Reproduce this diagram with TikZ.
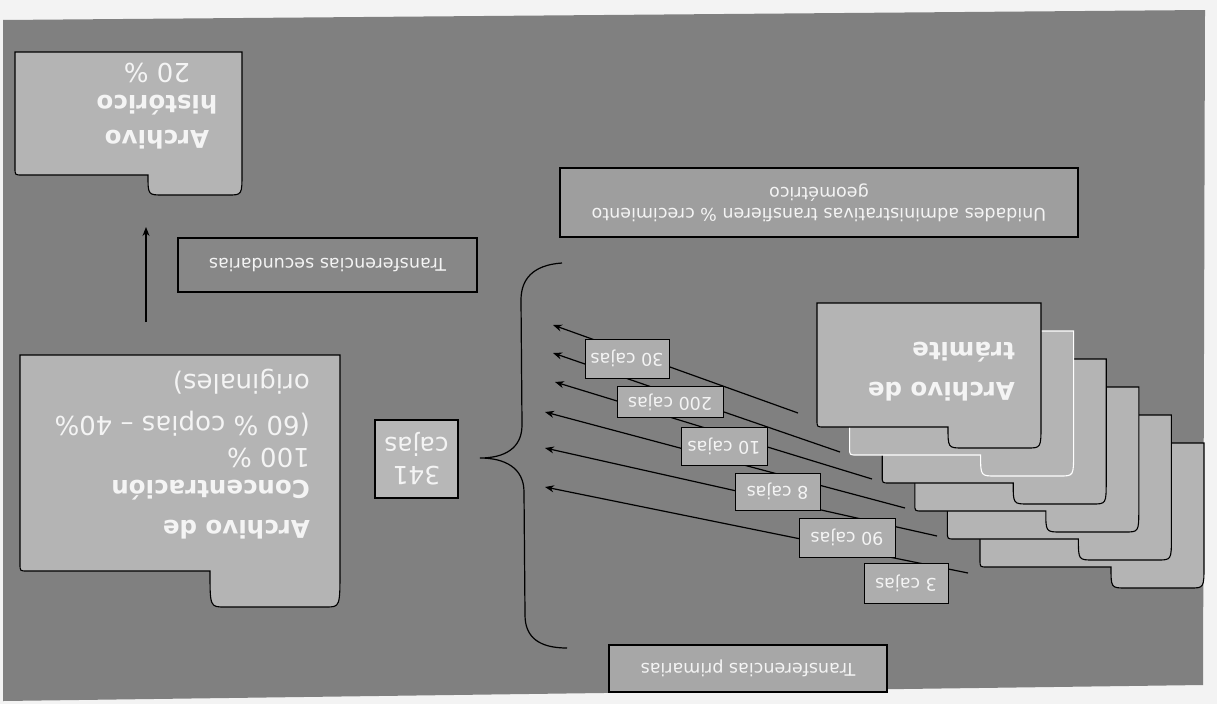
\documentclass[tikz,border=0pt]{standalone}
\usepackage{fontspec}
\setmainfont{DejaVu Sans}
\usetikzlibrary{arrows.meta}
\definecolor{paper}{HTML}{F3F3F3}
\definecolor{bggray}{HTML}{808080}
\definecolor{foldergray}{HTML}{B4B4B4}
\definecolor{lblgray}{HTML}{ADADAD}
\definecolor{secgray}{HTML}{878787}
\definecolor{unigray}{HTML}{9E9E9E}
\definecolor{primgray}{HTML}{A7A7A7}
\definecolor{boxgray}{HTML}{B7B7B7}
\definecolor{txtwhite}{HTML}{F4F4F4}
% folder outline: L T R B tabLeft tabBottom
\newcommand\folderpath[6]{(#1,#2) -- (#3,#2) -- (#3,#4-2) .. controls (#3,#6) .. (#3-14,#6) -- (#5+15,#6) .. controls (#5,#6) .. (#5,#4) -- (#1+7,#4) .. controls (#1,#4) .. (#1,#4-7) -- cycle}
\begin{document}
\begin{tikzpicture}[x=1pt,y=-1pt,
  folder/.style={fill=foldergray,draw=black,line width=1.1pt},
  ftxt/.style={rotate=180,text=txtwhite,inner sep=0pt,font=\fontsize{26}{32}\selectfont},
  rbox/.style={rotate=180,draw=black,line width=1.1pt,text=txtwhite,inner sep=0pt,align=center,font=\fontsize{17.5}{21}\selectfont},
  lbl/.style={rotate=180,draw=black,line width=1pt,fill=lblgray,text=txtwhite,inner sep=0pt,font=\fontsize{17.5}{21}\selectfont},
  arr/.style={draw=black,line width=1.2pt,-{Stealth[length=9pt,width=7pt]}},
  brace/.style={draw=black,line width=1.2pt}]
\useasboundingbox (0,0) rectangle (1217,704);
\fill[paper] (0,0) rectangle (1217,704);
\fill[bggray] (3,20) -- (1205,10) -- (1203,685) -- (3,701) -- cycle;

% brace
\draw[brace] (562,263) .. controls (532,265) and (521,280) .. (521,300) -- (522,425)
  .. controls (522,448) and (505,458) .. (480,458)
  .. controls (505,458) and (524,468) .. (524,492) -- (525,615)
  .. controls (525,638) and (540,648) .. (567,648);

% arrows from the stacked folders to the brace
\coordinate (s1) at (798,413); \coordinate (e1) at (553,325);
\coordinate (s2) at (840,452); \coordinate (e2) at (553,353);
\coordinate (s3) at (872,479); \coordinate (e3) at (555,382);
\coordinate (s4) at (905,508); \coordinate (e4) at (545,412);
\coordinate (s5) at (937,536); \coordinate (e5) at (545,448);
\coordinate (s6) at (968,573); \coordinate (e6) at (545,487);
\foreach \k in {1,...,6} {\draw[arr] (s\k) -- (e\k);}

% stacked folders "Archivo de tramite"
\foreach \i/\col in {5/black,4/black,3/black,2/black,1/white,0/black} {
  \pgfmathsetmacro\fL{817+32.6*\i}
  \pgfmathsetmacro\fT{303+28*\i}
  \pgfmathsetmacro\fR{\fL+224}
  \pgfmathsetmacro\fB{\fT+124}
  \pgfmathsetmacro\fTL{\fL+131}
  \pgfmathsetmacro\fTB{\fB+21}
  \path[folder,draw=\col] \folderpath{\fL}{\fT}{\fR}{\fB}{\fTL}{\fTB};
}
\node[ftxt,align=left,anchor=north west] (tram) at (1015,401.5)
  {{\fontsize{24.5}{32}\selectfont\bfseries Archivo de}\\[8pt]{\fontsize{24.5}{32}\selectfont\bfseries trámite}};

% Archivo historico
\path[folder] \folderpath{15}{52}{242}{175}{148}{195};
\node[ftxt,align=center,anchor=north] (hist) at (157,149)
  {{\fontsize{24.5}{32}\selectfont\bfseries Archivo}\\[3pt]{\fontsize{24.5}{32}\selectfont\bfseries histórico}\\20 \%};

% Archivo de Concentracion
\path[folder] \folderpath{20}{355}{340}{571}{210}{607};
\node[ftxt,align=left,anchor=north west] (conc) at (310,539)
  {{\fontsize{24.5}{32}\selectfont\bfseries Archivo de}\\[8pt]{\fontsize{24.5}{32}\selectfont\bfseries Concentración}\\100 \%\\(60 \% copias – 40\%\\[10pt]originales)};

% arrow to historico
\coordinate (up0) at (146,322); \coordinate (up1) at (146,227);
\draw[arr] (up0) -- (up1);

% rectangular boxes
\node[rbox,fill=secgray,minimum width=299pt,minimum height=54pt] (sec) at (327.5,265) {Transferencias secundarias};
\node[rbox,fill=primgray,minimum width=278pt,minimum height=47pt] (prim) at (748,668.5) {Transferencias primarias};
\node[rbox,fill=unigray,minimum width=518pt,minimum height=69pt] (uni) at (819,202.5) {Unidades administrativas transfieren \% crecimiento\\geométrico};
\node[rbox,fill=boxgray,minimum width=83pt,minimum height=78pt,font=\fontsize{25}{29}\selectfont] (total) at (416.5,459) {341\\cajas};

% labels on the arrows
\node[lbl,minimum width=84pt,minimum height=39pt] (l30) at (627,358.5) {30 cajas};
\node[lbl,minimum width=106pt,minimum height=31pt] (l200) at (670,402) {200 cajas};
\node[lbl,minimum width=86pt,minimum height=38pt] (l10) at (724,446) {10 cajas};
\node[lbl,minimum width=85pt,minimum height=37pt] (l8) at (777.5,491.5) {8 cajas};
\node[lbl,minimum width=96pt,minimum height=39pt] (l90) at (847,537.5) {90 cajas};
\node[lbl,minimum width=84pt,minimum height=40pt] (l3) at (906,583) {3 cajas};
\end{tikzpicture}
\end{document}
